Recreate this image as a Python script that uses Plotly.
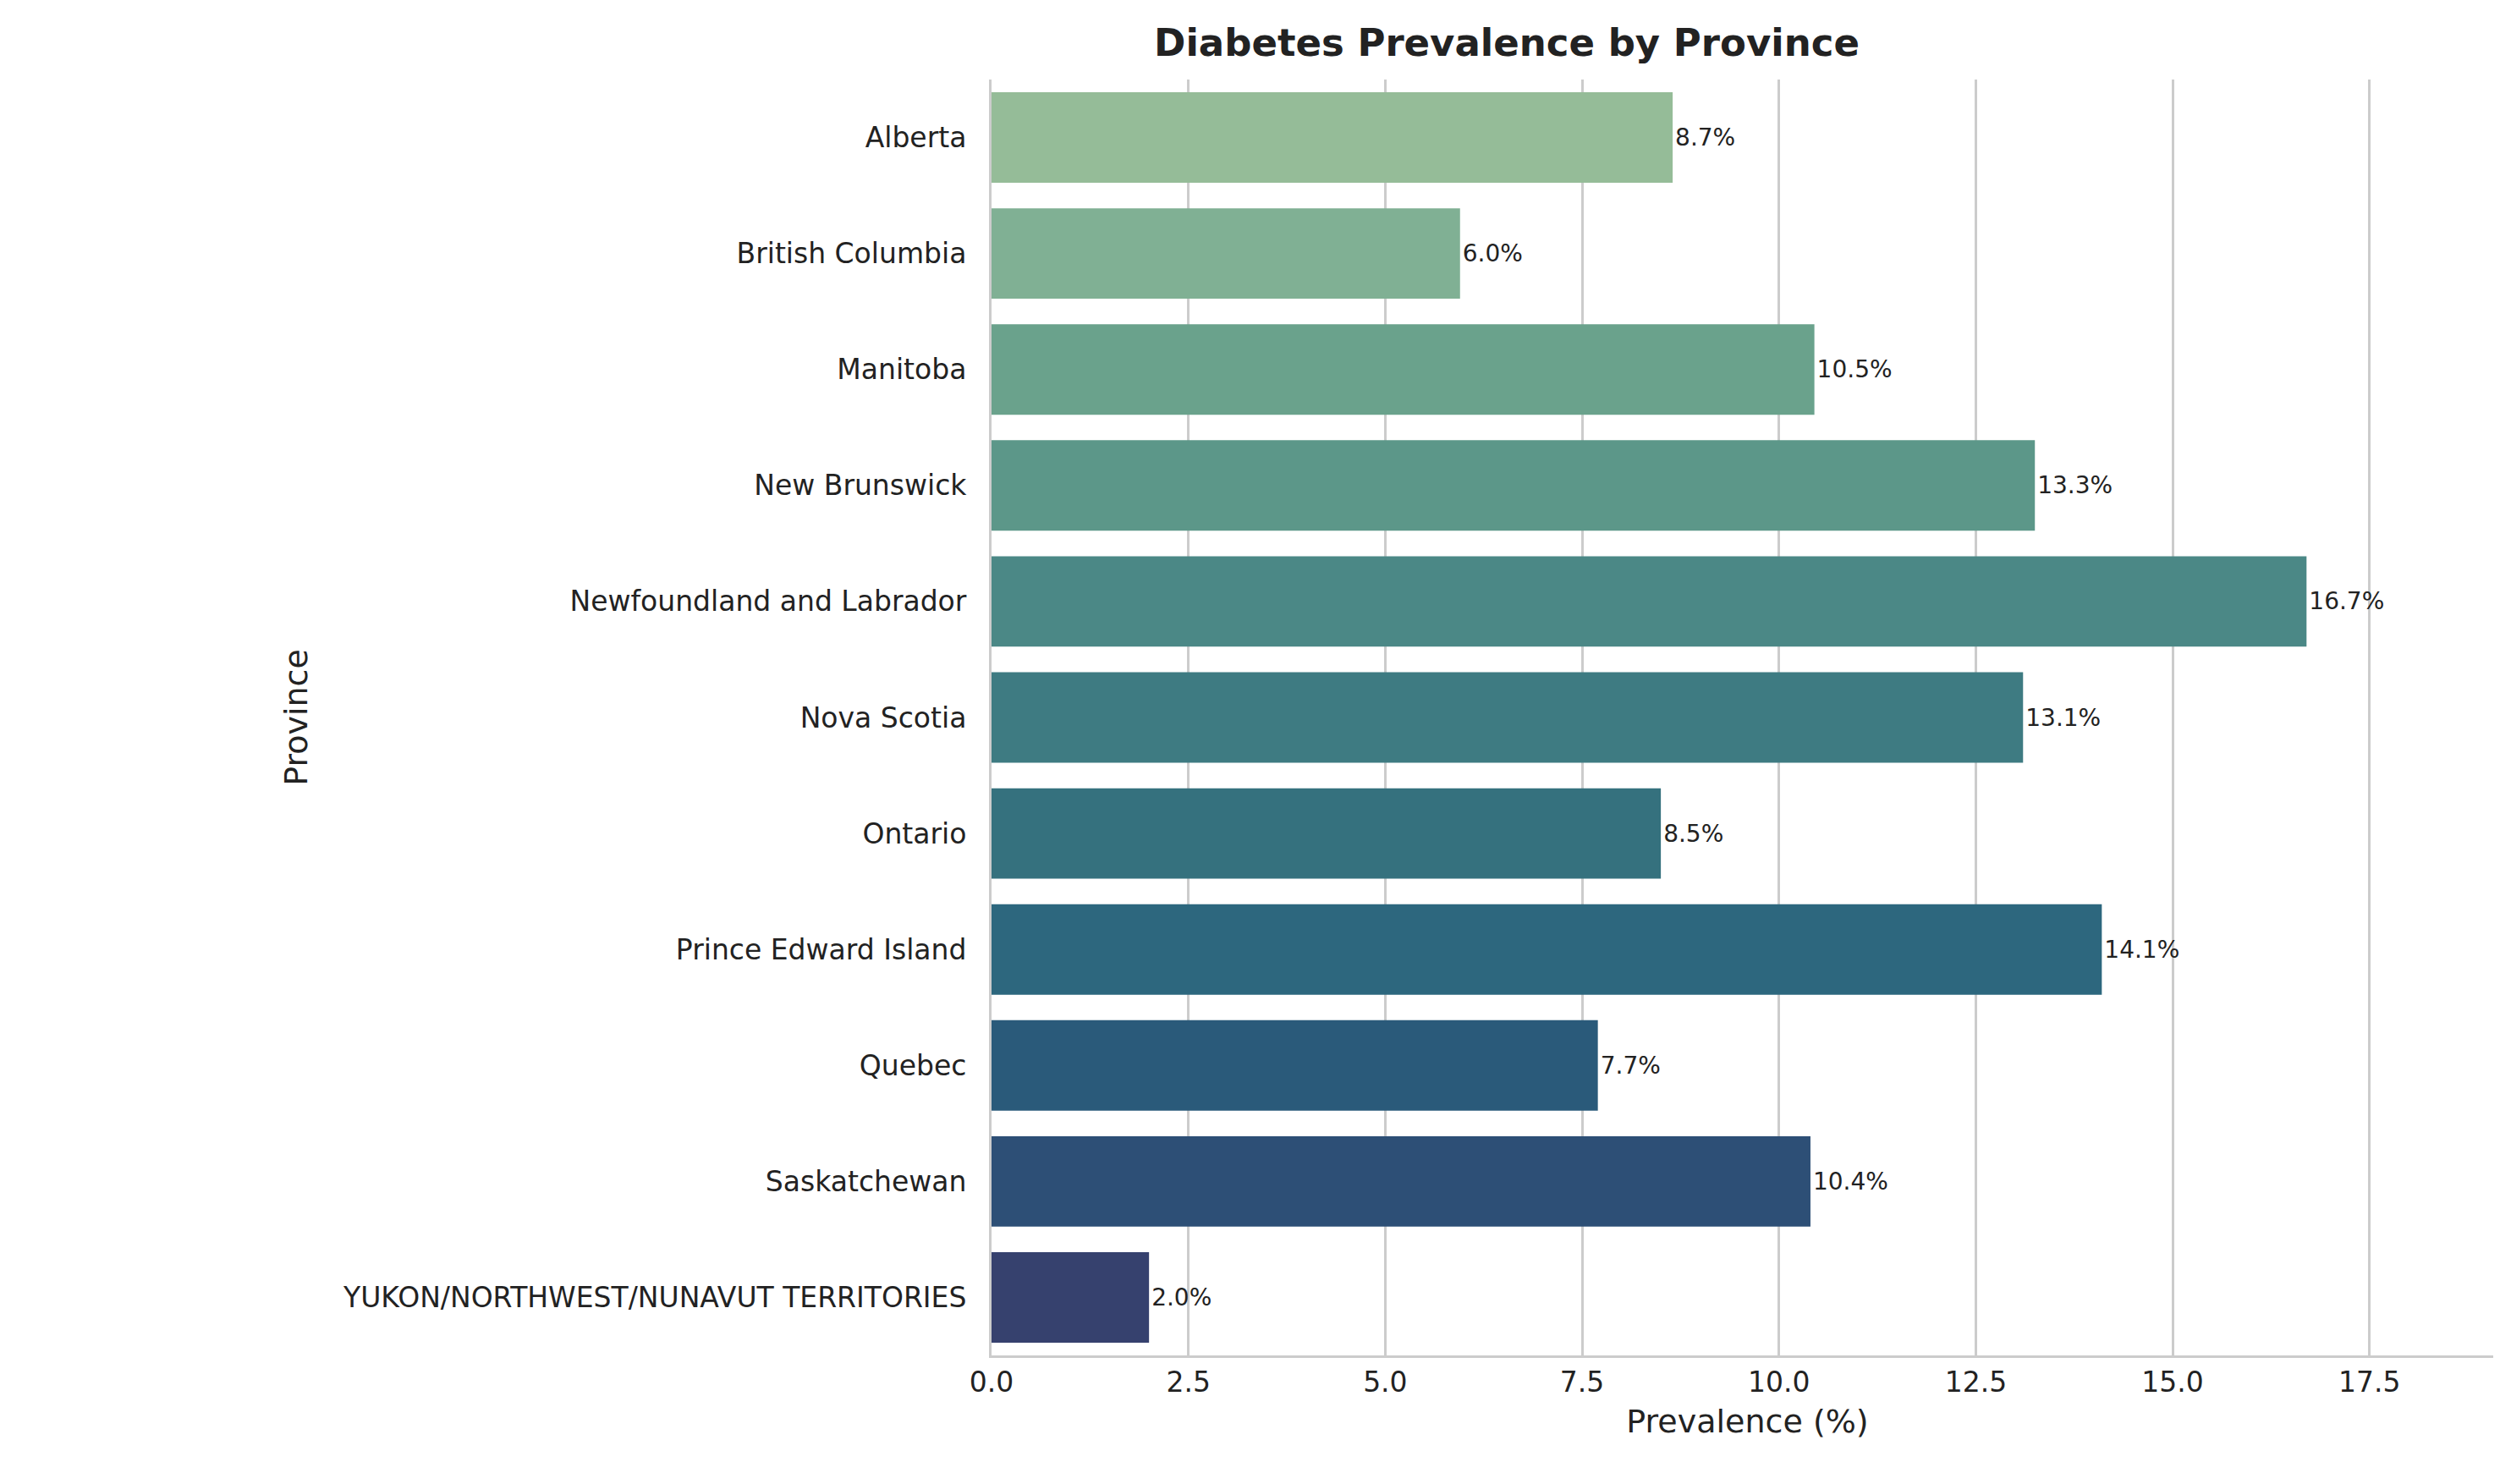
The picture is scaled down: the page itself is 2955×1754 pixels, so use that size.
import plotly.graph_objects as go

provinces = ["Alberta", "British Columbia", "Manitoba", "New Brunswick",
             "Newfoundland and Labrador", "Nova Scotia", "Ontario",
             "Prince Edward Island", "Quebec", "Saskatchewan",
             "YUKON/NORTHWEST/NUNAVUT TERRITORIES"]
prevalence = [8.65, 5.95, 10.45, 13.25, 16.7, 13.1, 8.5, 14.1, 7.7, 10.4, 2.0]
labels = ["8.7%", "6.0%", "10.5%", "13.3%", "16.7%", "13.1%", "8.5%",
          "14.1%", "7.7%", "10.4%", "2.0%"]
colors = ["#95bc98", "#80b094", "#6aa28c", "#5c9789", "#4b8886", "#3e7b82",
          "#35717e", "#2d677e", "#2a5a7a", "#2d4f76", "#36416e"]

fig = go.Figure(go.Bar(
    x=prevalence, y=provinces, orientation="h", width=0.78,
    marker=dict(color=colors, line=dict(width=0)),
    text=labels, textposition="outside", cliponaxis=False,
    textfont=dict(size=28, color="#222222"),
))

fig.update_layout(
    width=2955, height=1754,
    plot_bgcolor="white", paper_bgcolor="white",
    font=dict(family="DejaVu Sans, Arial", color="#222222"),
    margin=dict(l=1164, r=4, t=86, b=160),
    title=dict(text="<b>Diabetes Prevalence by Province</b>", x=0.6, xanchor="center",
               y=0.985, yanchor="top", font=dict(size=45, color="#222222")),
    showlegend=False,
)
fig.update_xaxes(
    range=[0, 19.2], dtick=2.5, tickformat=".1f",
    showgrid=True, gridcolor="#cccccc", gridwidth=3,
    showline=True, linecolor="#cccccc", linewidth=3,
    ticks="", tickfont=dict(size=33),
    title=dict(text="Prevalence (%)", font=dict(size=38)), zeroline=False,
)
fig.update_yaxes(
    autorange="reversed", showgrid=False,
    showline=True, linecolor="#cccccc", linewidth=3,
    ticks="", tickfont=dict(size=33), ticklabelstandoff=20,
    title=dict(text="Province", font=dict(size=38), standoff=30),
)

fig.write_html("out.html")
